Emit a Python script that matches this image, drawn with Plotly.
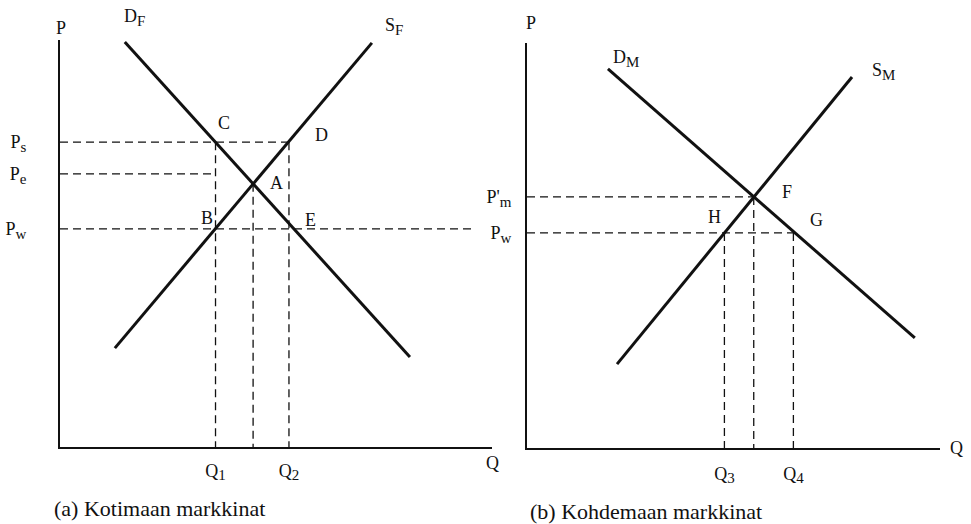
import plotly.graph_objects as go

def sub(t):
    return "<sub><span style='font-size:15px'>" + t + "</span></sub>"

# ---------------- Panel (a): Kotimaan markkinat ----------------
dF_q = [1.50, 8.10]
dF_p = [9.95, 2.21]
sF_q = [1.27, 7.22]
sF_p = [2.43, 9.93]
# price levels: Ps, Pe, Pw ; equilibrium price at A
pa_vals = [7.49, 6.71, 5.36]
pa_text = ["P" + sub("s"), "P" + sub("e"), "P" + sub("w")]
pA = 6.47
# quantities: Q1, Q at A, Q2
qa_vals = [3.60, 4.47, 5.30]
qa_tick_vals = [3.60, 5.30]
qa_tick_text = ["Q" + sub("1"), "Q" + sub("2")]
pw_end_a = 9.6

# ---------------- Panel (b): Kohdemaan markkinat ----------------
dM_q = [1.96, 9.39]
dM_p = [9.36, 2.72]
sM_q = [2.18, 7.87]
sM_p = [2.07, 9.16]
pb_vals = [6.20, 5.31]
pb_text = ["P'" + sub("m"), "P" + sub("w")]
qb_vals = [4.78, 5.49, 6.45]
qb_tick_vals = [4.78, 6.45]
qb_tick_text = ["Q" + sub("3"), "Q" + sub("4")]

FONT = "Liberation Serif"
BLACK = "#111111"
DASH = "8px,5px"

fig = go.Figure()

# solid curves
for q, p, xa, ya in [(dF_q, dF_p, "x", "y"), (sF_q, sF_p, "x", "y"),
                     (dM_q, dM_p, "x2", "y2"), (sM_q, sM_p, "x2", "y2")]:
    fig.add_trace(go.Scatter(x=q, y=p, mode="lines", xaxis=xa, yaxis=ya,
                             line=dict(color=BLACK, width=3), hoverinfo="skip"))

# dashed guide lines, panel (a)
Ps, Pe, Pw = pa_vals
Q1, QA, Q2 = qa_vals
xa_d = [0, Q2, None, 0, Q1, None, 0, pw_end_a, None,
        Q1, Q1, None, QA, QA, None, Q2, Q2]
ya_d = [Ps, Ps, None, Pe, Pe, None, Pw, Pw, None,
        Ps, 0, None, pA, 0, None, Ps, 0]
fig.add_trace(go.Scatter(x=xa_d, y=ya_d, mode="lines", xaxis="x", yaxis="y",
                         line=dict(color=BLACK, width=1.3, dash=DASH), hoverinfo="skip"))

# dashed guide lines, panel (b)
Pm, Pwb = pb_vals
Q3, QF, Q4 = qb_vals
xb_d = [0, QF, None, 0, Q4, None, Q3, Q3, None, QF, QF, None, Q4, Q4]
yb_d = [Pm, Pm, None, Pwb, Pwb, None, Pwb, 0, None, Pm, 0, None, Pwb, 0]
fig.add_trace(go.Scatter(x=xb_d, y=yb_d, mode="lines", xaxis="x2", yaxis="y2",
                         line=dict(color=BLACK, width=1.3, dash=DASH), hoverinfo="skip"))

W, H = 971, 524
def dom_x(a, b):
    return [a / W, b / W]
def dom_y(top, bottom):
    return [1 - bottom / H, 1 - top / H]

axis_common = dict(showgrid=False, zeroline=False, showline=True, linecolor=BLACK,
                   linewidth=2, ticks="", tickfont=dict(family=FONT, size=18, color=BLACK),
                   fixedrange=True)

fig.update_layout(
    width=W, height=H, margin=dict(l=0, r=0, t=0, b=0),
    paper_bgcolor="white", plot_bgcolor="white", showlegend=False,
    font=dict(family=FONT, size=18, color=BLACK),
    xaxis=dict(domain=dom_x(60, 492), range=[0, 10], tickvals=qa_tick_vals,
               ticktext=qa_tick_text, ticklabelstandoff=6, anchor="y", **axis_common),
    yaxis=dict(domain=dom_y(40, 447), range=[0, 10], tickvals=pa_vals,
               ticktext=pa_text, ticklabelstandoff=28, anchor="x", **axis_common),
    xaxis2=dict(domain=dom_x(527, 940), range=[0, 10], tickvals=qb_tick_vals,
                ticktext=qb_tick_text, ticklabelstandoff=8, anchor="y2", **axis_common),
    yaxis2=dict(domain=dom_y(43, 448), range=[0, 10], tickvals=pb_vals,
                ticktext=pb_text, ticklabelstandoff=10, anchor="x2", **axis_common),
)

def lab(text, x, y, xr="x", yr="y", size=18):
    fig.add_annotation(text=text, x=x, y=y, xref=xr, yref=yr, showarrow=False,
                       xanchor="center", yanchor="middle",
                       font=dict(family=FONT, size=size, color=BLACK))

def plab(text, px, py, size=18):
    fig.add_annotation(text=text, x=px / W, y=1 - py / H, xref="paper", yref="paper",
                       showarrow=False, xanchor="center", yanchor="middle",
                       font=dict(family=FONT, size=size, color=BLACK))

# panel (a) labels
lab("C", 3.80, 7.96)
lab("D", 6.06, 7.67)
lab("A", 5.02, 6.49)
lab("B", 3.40, 5.63)
lab("E", 5.79, 5.58)
plab("D" + sub("F"), 134, 17)
plab("S" + sub("F"), 394, 26)
plab("P", 61, 28)
plab("Q", 492, 463)

# panel (b) labels
lab("F", 6.30, 6.32, "x2", "y2")
lab("H", 4.55, 5.70, "x2", "y2")
lab("G", 7.02, 5.63, "x2", "y2")
lab("D" + sub("M"), 2.40, 9.62, "x2", "y2")
lab("S" + sub("M"), 8.64, 9.30, "x2", "y2")
plab("P", 531, 23)
plab("Q", 956, 448)

# captions
fig.add_annotation(text="(a) Kotimaan markkinat", x=52 / W, y=1 - 508 / H,
                   xref="paper", yref="paper", xanchor="left", yanchor="middle",
                   showarrow=False, font=dict(family=FONT, size=22, color=BLACK))
fig.add_annotation(text="(b) Kohdemaan markkinat", x=528 / W, y=1 - 511 / H,
                   xref="paper", yref="paper", xanchor="left", yanchor="middle",
                   showarrow=False, font=dict(family=FONT, size=22, color=BLACK))

fig.write_html("out.html", config={"displayModeBar": False},
               post_script="document.body.style.margin='0';document.body.style.padding='0';")
